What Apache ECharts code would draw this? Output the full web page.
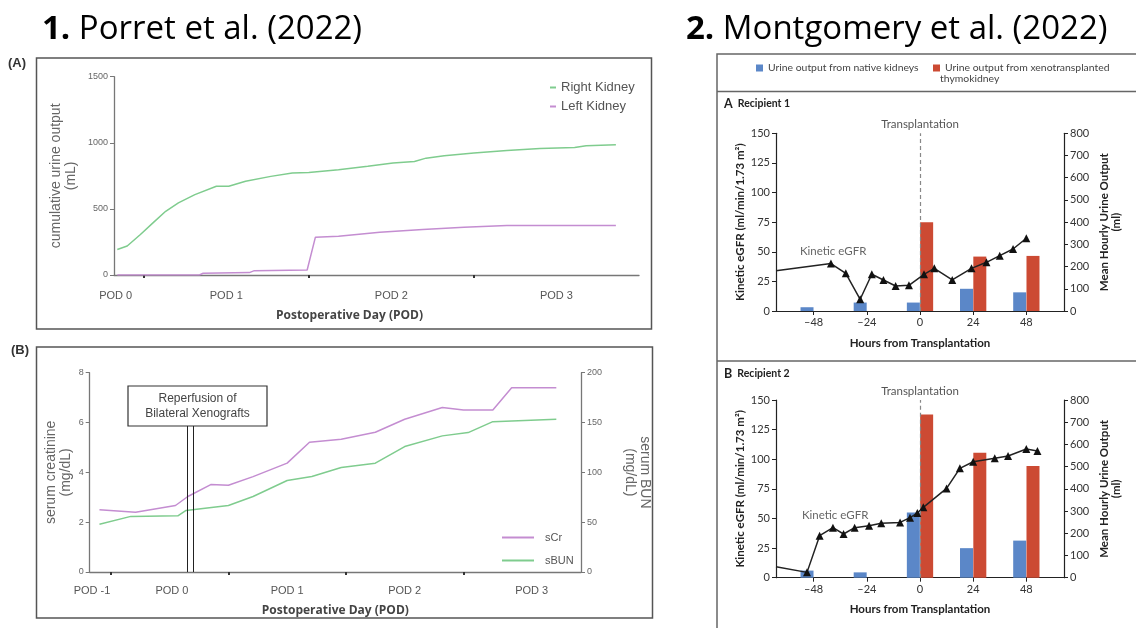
<!DOCTYPE html>
<html>
<head>
<meta charset="utf-8">
<script src="https://cdn.jsdelivr.net/npm/echarts@6.0.0/dist/echarts.min.js"></script>
<style>
  html, body { margin: 0; background: #fff; }
  #chart { width: 1136px; height: 628px; }
</style>
</head>
<body>
<div id="chart"></div>
<script>
// ---- Porret (A): cumulative urine output, x = days from first tick ----
const podATicks = [0, 1, 2];
const podALabelPos = [-0.17, 0.5, 1.5, 2.5];
const podALabels = ['POD 0', 'POD 1', 'POD 2', 'POD 3'];
const rightKidneyDay = [-0.16, -0.1, -0.02, 0.056, 0.133, 0.21, 0.31, 0.44, 0.515, 0.617, 0.77, 0.9, 1.0, 1.18, 1.357, 1.51, 1.64, 1.71, 1.82, 2.0, 2.2, 2.4, 2.61, 2.68, 2.86];
const rightKidneyMl = [193, 219, 306, 394, 482, 545, 608, 671, 671, 709, 746, 771, 776, 796, 822, 847, 859, 884, 902, 922, 942, 957, 965, 977, 985];
const leftKidneyDay = [-0.16, 0.337, 0.36, 0.64, 0.67, 0.99, 1.04, 1.18, 1.43, 1.69, 1.94, 2.2, 2.86];
const leftKidneyMl = [0, 0, 13, 18, 33, 38, 286, 294, 324, 344, 362, 374, 374];

// ---- Porret (B): serum creatinine / BUN ----
const podBTicks = [0, 1, 2, 3];
const podBLabelPos = [-0.16, 0.52, 1.5, 2.5, 3.58];
const podBLabels = ['POD -1', 'POD 0', 'POD 1', 'POD 2', 'POD 3'];
const sCrDay = [-0.097, 0.21, 0.55, 0.655, 0.85, 1.0, 1.21, 1.5, 1.69, 1.96, 2.25, 2.5, 2.82, 3.0, 3.25, 3.41, 3.79];
const sCrVal = [2.5, 2.4, 2.67, 3.03, 3.51, 3.48, 3.83, 4.37, 5.21, 5.33, 5.61, 6.13, 6.6, 6.5, 6.5, 7.4, 7.4];
const sBunDay = [-0.097, 0.17, 0.57, 0.64, 1.0, 1.21, 1.5, 1.71, 1.96, 2.25, 2.5, 2.82, 3.04, 3.25, 3.79];
const sBunVal = [48, 55.8, 56.4, 61.8, 66.8, 75.8, 91.8, 95.8, 104.8, 109.2, 125.9, 136.6, 139.9, 150.9, 153.3];
const reperfusionDay = [0.648, 0.705];

// ---- Montgomery: hours from transplantation ----
const hourTicks = [-48, -24, 0, 24, 48];
const r1EgfrHour = [-65, -40.2, -33.5, -27, -21.75, -16.5, -11, -5, 1.8, 6.45, 14.55, 23.25, 30, 36, 42, 48];
const r1Egfr = [34, 40, 31.8, 9.9, 31, 26.2, 21.1, 21.7, 31, 36, 26.2, 36, 41.1, 46.7, 52.3, 61.4];
const r1NativeHour = [-51, -27, -3, 21, 45];
const r1NativeMl = [17, 38, 38, 100, 84];
const r1XenoHour = [3, 27, 51];
const r1XenoMl = [400, 245, 248];

const r2EgfrHour = [-65, -51, -45.3, -39.3, -34.5, -29.5, -23, -17.5, -9, -4.5, -1.2, 1.5, 12, 18, 24, 33.75, 39.75, 48, 53];
const r2Egfr = [9.3, 4.5, 35.5, 42.2, 36.9, 42.2, 43.9, 45.9, 46.7, 50.7, 54.6, 59.4, 75.4, 92.3, 97.9, 100.8, 102.7, 108.6, 106.9];
const r2NativeHour = [-51, -27, -3, 21, 45];
const r2NativeMl = [32, 24, 294, 133, 167];
const r2XenoHour = [3, 27, 51];
const r2XenoMl = [735, 563, 503];

const GREEN = '#7fcc8e', PURPLE = '#c48dd1', BLUE = '#5b87c8', RED = '#cc4a33';
const NARROW = '"Liberation Sans Narrow", "Liberation Sans", Arial, sans-serif';
const NEJM = 'Lato, "Open Sans", sans-serif';
const NATIVE = 'Urine output from native kidneys';
const XENO = 'Urine output from xenotransplanted';

const zip = (xs, ys) => xs.map((x, i) => [x, ys[i]]);
const pickLabel = (pos, labels) => v => {
  let best = 0;
  pos.forEach((p, i) => { if (Math.abs(p - v) < Math.abs(pos[best] - v)) best = i; });
  return labels[best];
};
const egfrData = (xs, ys) => xs.map((x, i) => i === 0 ? { value: [x, ys[i]], symbol: 'none' } : [x, ys[i]]);

// axis styles
const porretLine = { onZero: false, lineStyle: { color: '#777', width: 1.3 } };
const porretY = (idx, min, max, interval, pos, name, gap, rot) => ({
  gridIndex: idx, type: 'value', min: min, max: max, interval: interval, position: pos,
  splitLine: { show: false },
  axisLine: Object.assign({ show: true }, porretLine),
  axisTick: { show: true, length: 4, lineStyle: { color: '#777' } },
  axisLabel: { fontSize: 9, color: '#666', fontFamily: NARROW, margin: 6, formatter: v => String(v) },
  name: name, nameLocation: 'middle', nameGap: gap, nameRotate: rot,
  nameTextStyle: { fontSize: 14, color: '#666', fontFamily: NARROW, lineHeight: 15 }
});
const recipY = (idx, max, interval, pos, name, gap) => ({
  gridIndex: idx, type: 'value', min: 0, max: max, interval: interval, position: pos,
  splitLine: { show: false },
  axisLine: { show: true, onZero: false, lineStyle: { color: '#222', width: 1.2 } },
  axisTick: { show: true, length: 4, lineStyle: { color: '#222' } },
  axisLabel: { fontSize: 11, color: '#333', fontFamily: NEJM, margin: 6 },
  name: name, nameLocation: 'middle', nameGap: gap,
  nameTextStyle: { fontSize: 11.5, fontWeight: 'bold', color: '#222', fontFamily: NEJM, lineHeight: 12 }
});
const recipX = (idx) => ({
  gridIndex: idx, type: 'value', min: -65, max: 65,
  splitLine: { show: false },
  axisLine: { onZero: false, lineStyle: { color: '#222', width: 1.2 } },
  axisTick: { show: true, length: 4, customValues: hourTicks, lineStyle: { color: '#222' } },
  axisLabel: { fontSize: 11, color: '#333', fontFamily: NEJM, margin: 6, customValues: hourTicks,
    formatter: v => v < 0 ? '\u2013' + Math.abs(v) : String(v) },
  name: 'Hours from Transplantation', nameLocation: 'middle', nameGap: 26,
  nameTextStyle: { fontSize: 11.5, fontWeight: 'bold', color: '#222', fontFamily: NEJM }
});

const barSeries = (name, x, y, xs, ys, color) => ({
  name: name, type: 'bar', xAxisIndex: x, yAxisIndex: y, barWidth: 13, barGap: '-100%',
  itemStyle: { color: color }, data: zip(xs, ys)
});
const egfrSeries = (x, y, xs, ys, labelAt) => ({
  name: 'Kinetic eGFR ' + x, type: 'line', xAxisIndex: x, yAxisIndex: y, z: 4,
  symbol: 'triangle', symbolSize: 8, itemStyle: { color: '#111' },
  lineStyle: { color: '#222', width: 1.5 }, data: egfrData(xs, ys),
  markPoint: {
    symbolSize: 0, silent: true,
    label: { show: true, position: 'inside', formatter: 'Kinetic eGFR', color: '#666', fontSize: 11.5, fontFamily: NEJM },
    data: [{ coord: labelAt }]
  },
  markLine: {
    symbol: 'none', silent: true,
    lineStyle: { type: [4, 3], color: '#888', width: 1.2 },
    label: { show: true, position: 'end', formatter: 'Transplantation', color: '#555', fontSize: 11.5, fontFamily: NEJM, distance: 3 },
    data: [{ xAxis: 0 }]
  }
});

const option = {
  backgroundColor: '#fff',
  animation: false,
  grid: [
    { left: 114, top: 76.7, width: 525, height: 198.3 },
    { left: 89.7, top: 372.7, width: 491.3, height: 199.3 },
    { left: 776, top: 133.3, width: 288, height: 177.7 },
    { left: 776, top: 400, width: 288, height: 177.7 }
  ],
  legend: [
    { data: ['Right Kidney', 'Left Kidney'], orient: 'vertical', left: 545, top: 76, icon: 'rect',
      itemWidth: 6, itemHeight: 2, itemGap: 6,
      textStyle: { fontSize: 13, color: '#555', fontFamily: NARROW } },
    { data: ['sCr', 'sBUN'], orient: 'vertical', left: 497, top: 527, icon: 'rect',
      itemWidth: 32, itemHeight: 2, itemGap: 12,
      textStyle: { fontSize: 11, color: '#555', fontFamily: NARROW, padding: [0, 0, 0, 6] } },
    { data: [NATIVE], left: 751, top: 58, icon: 'rect', itemWidth: 7, itemHeight: 7, itemGap: 0,
      textStyle: { fontSize: 10.4, color: '#444', fontFamily: NEJM } },
    { data: [XENO], left: 928, top: 58, icon: 'rect', itemWidth: 7, itemHeight: 7, itemGap: 0,
      textStyle: { fontSize: 10.4, color: '#444', fontFamily: NEJM } }
  ],
  xAxis: [
    { gridIndex: 0, type: 'value', min: -0.18, max: 3, splitLine: { show: false },
      axisLine: porretLine,
      axisTick: { show: true, length: 3, customValues: podATicks, lineStyle: { color: '#333', width: 2 } },
      axisLabel: { customValues: podALabelPos, formatter: pickLabel(podALabelPos, podALabels),
        fontSize: 11, color: '#555', fontFamily: NARROW, margin: 15 },
      name: 'Postoperative Day (POD)', nameLocation: 'middle', nameGap: 35,
      nameTextStyle: { fontSize: 12, fontWeight: 'bold', color: '#444', fontFamily: '"Open Sans"', padding: [0, 54, 0, 0] } },
    { gridIndex: 1, type: 'value', min: -0.18, max: 4, splitLine: { show: false },
      axisLine: porretLine,
      axisTick: { show: true, length: 3, customValues: podBTicks, lineStyle: { color: '#333', width: 2 } },
      axisLabel: { customValues: podBLabelPos, formatter: pickLabel(podBLabelPos, podBLabels),
        fontSize: 11, color: '#555', fontFamily: NARROW, margin: 13 },
      name: 'Postoperative Day (POD)', nameLocation: 'middle', nameGap: 33,
      nameTextStyle: { fontSize: 12, fontWeight: 'bold', color: '#444', fontFamily: '"Open Sans"' } },
    recipX(2),
    recipX(3)
  ],
  yAxis: [
    porretY(0, 0, 1500, 500, 'left', 'cumulative urine output\n(mL)', 35, 90),
    porretY(1, 0, 8, 2, 'left', 'serum creatinine\n(mg/dL)', 16, 90),
    porretY(1, 0, 200, 50, 'right', 'serum BUN\n(mg/dL)', 41, -90),
    recipY(2, 150, 25, 'left', 'Kinetic eGFR (ml/min/1.73 m\u00B2)', 30),
    recipY(2, 800, 100, 'right', 'Mean Hourly Urine Output\n(ml)', 34),
    recipY(3, 150, 25, 'left', 'Kinetic eGFR (ml/min/1.73 m\u00B2)', 30),
    recipY(3, 800, 100, 'right', 'Mean Hourly Urine Output\n(ml)', 34)
  ],
  series: [
    { name: 'Right Kidney', type: 'line', xAxisIndex: 0, yAxisIndex: 0, showSymbol: false,
      color: GREEN, lineStyle: { width: 1.5 }, data: zip(rightKidneyDay, rightKidneyMl) },
    { name: 'Left Kidney', type: 'line', xAxisIndex: 0, yAxisIndex: 0, showSymbol: false,
      color: PURPLE, lineStyle: { width: 1.5 }, data: zip(leftKidneyDay, leftKidneyMl) },
    { name: 'sCr', type: 'line', xAxisIndex: 1, yAxisIndex: 1, showSymbol: false,
      color: PURPLE, lineStyle: { width: 1.5 }, data: zip(sCrDay, sCrVal),
      markLine: { symbol: 'none', silent: true, label: { show: false },
        lineStyle: { type: 'solid', color: '#222', width: 1 },
        data: reperfusionDay.map(d => [{ coord: [d, 0] }, { coord: [d, 5.86] }]) } },
    { name: 'sBUN', type: 'line', xAxisIndex: 1, yAxisIndex: 2, showSymbol: false,
      color: GREEN, lineStyle: { width: 1.5 }, data: zip(sBunDay, sBunVal) },

    barSeries(NATIVE, 2, 4, r1NativeHour, r1NativeMl, BLUE),
    barSeries(XENO, 2, 4, r1XenoHour, r1XenoMl, RED),
    egfrSeries(2, 3, r1EgfrHour, r1Egfr, [-39.2, 50]),
    barSeries(NATIVE, 3, 6, r2NativeHour, r2NativeMl, BLUE),
    barSeries(XENO, 3, 6, r2XenoHour, r2XenoMl, RED),
    egfrSeries(3, 5, r2EgfrHour, r2Egfr, [-38.3, 52.9])
  ],
  graphic: [
    { type: 'text', left: 42, top: 13, style: { text: '{b|1.} Porret et al. (2022)', fill: '#000',
        font: '33px "Open Sans"', rich: { b: { font: 'bold 33px "Open Sans"' } } } },
    { type: 'text', left: 686, top: 13, style: { text: '{b|2.} Montgomery et al. (2022)', fill: '#000',
        font: '33px "Open Sans"', rich: { b: { font: 'bold 33px "Open Sans"' } } } },
    // Porret panel frames
    { type: 'rect', shape: { x: 36.5, y: 58, width: 615, height: 271 }, silent: true,
      style: { fill: 'none', stroke: '#555', lineWidth: 1.5 } },
    { type: 'rect', shape: { x: 36.5, y: 347, width: 616, height: 271 }, silent: true,
      style: { fill: 'none', stroke: '#555', lineWidth: 1.5 } },
    { type: 'text', left: 8, top: 57, style: { text: '(A)', font: 'bold 13px "Liberation Sans"', fill: '#333' } },
    { type: 'text', left: 11, top: 344, style: { text: '(B)', font: 'bold 13px "Liberation Sans"', fill: '#333' } },
    // reperfusion annotation
    { type: 'rect', shape: { x: 128, y: 386, width: 139, height: 40 }, silent: true,
      style: { fill: '#fff', stroke: '#333', lineWidth: 1.2 } },
    { type: 'text', x: 197.5, y: 406, silent: true, style: { text: 'Reperfusion of\nBilateral Xenografts',
        font: '12px ' + NARROW, fill: '#444', align: 'center', verticalAlign: 'middle', lineHeight: 15 } },
    // Montgomery frame
    { type: 'rect', shape: { x: 717, y: 54, width: 440, height: 600 }, silent: true,
      style: { fill: 'none', stroke: '#666', lineWidth: 1.5 } },
    { type: 'line', shape: { x1: 717, y1: 91.5, x2: 1136, y2: 91.5 }, silent: true,
      style: { stroke: '#666', lineWidth: 1.5 } },
    { type: 'line', shape: { x1: 717, y1: 361, x2: 1136, y2: 361 }, silent: true,
      style: { stroke: '#666', lineWidth: 1.5 } },
    { type: 'text', left: 940, top: 74, style: { text: 'thymokidney', font: '10.4px Lato', fill: '#444' } },
    { type: 'text', left: 724, top: 97, style: { text: '{a|A}  Recipient 1', font: 'bold 10.5px Lato', fill: '#222',
        rich: { a: { font: 'bold 12.5px Lato' } } } },
    { type: 'text', left: 724, top: 367, style: { text: '{a|B}  Recipient 2', font: 'bold 10.5px Lato', fill: '#222',
        rich: { a: { font: 'bold 12.5px Lato' } } } }
  ]
};

const chart = echarts.init(document.getElementById('chart'));
chart.setOption(option);
</script>
</body>
</html>
